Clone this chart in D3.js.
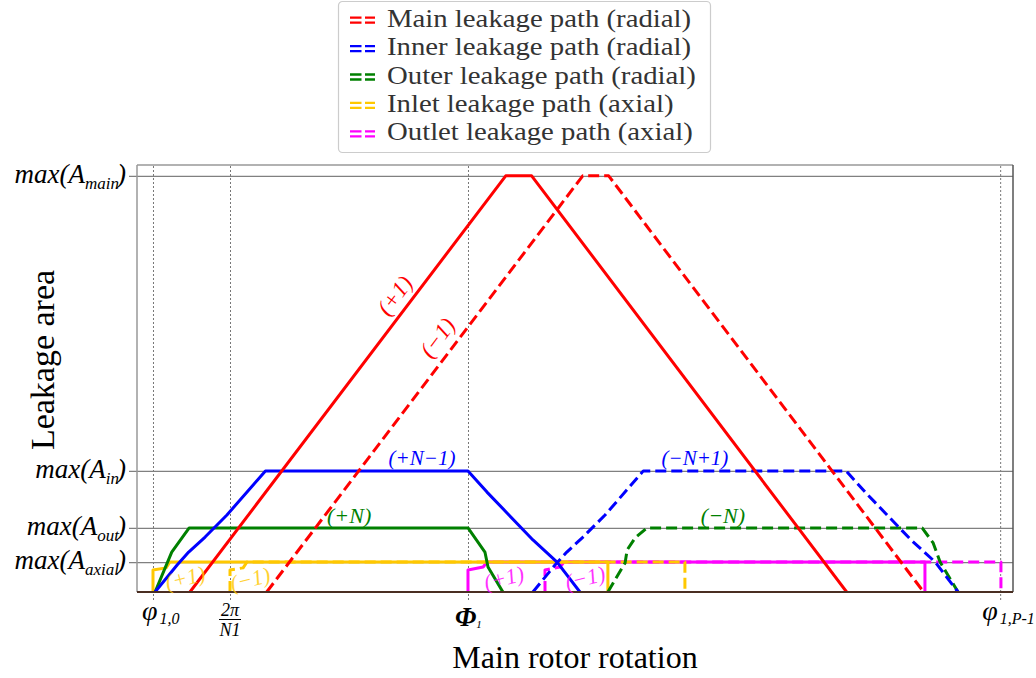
<!DOCTYPE html>
<html>
<head>
<meta charset="utf-8">
<script src="https://cdn.jsdelivr.net/npm/d3@7"></script>
<style>
  html, body { margin: 0; padding: 0; background: #fff; }
  svg { display: block; }
  text { font-family: "Liberation Serif", "Times New Roman", serif; }
</style>
</head>
<body>
<svg id="chart" width="1036" height="678"></svg>
<script>
// Rotation angle (degrees) and normalised leakage area (1 = max main area)
const xTickValues = [0, 30, 122.7, 330];
const yTickValues = [1, 0.291, 0.154, 0.072];

// y tick label parts: [prefix, subscript]
const yTickLabels = [["max(A", "main"], ["max(A", "in"], ["max(A", "out"], ["max(A", "axial"]];

// Main leakage path (radial)
const mainPlusX = [14.4, 137.4, 147.5, 270.2];
const mainPlusY = [0, 1, 1, 0];
const mainMinusX = [44.3, 167.4, 177.5, 300.2];
const mainMinusY = [0, 1, 1, 0];

// Inner leakage path (radial)
const innerPlusX = [0.8, 9.4, 13.9, 20.3, 28.8, 43.8, 122.7, 130.1, 137.9, 148.0, 157.4, 166.3];
const innerPlusY = [0, 0.065, 0.096, 0.132, 0.185, 0.291, 0.291, 0.240, 0.190, 0.125, 0.072, 0];
const innerMinusX = [148.0, 156.6, 161.2, 167.5, 176.1, 191.0, 270.0, 277.4, 285.2, 295.3, 304.7, 313.6];
const innerMinusY = [0, 0.065, 0.096, 0.132, 0.185, 0.291, 0.291, 0.240, 0.190, 0.125, 0.072, 0];

// Outer leakage path (radial)
const outerPlusX = [0.8, 7.3, 14.1, 122.7, 129.3, 130.5, 136.3];
const outerPlusY = [0, 0.096, 0.154, 0.154, 0.096, 0.060, 0];
const outerMinusX = [177.2, 181.1, 183.9, 184.7, 187.8, 192.4, 299.6, 303.9, 306.6, 313.6];
const outerMinusY = [0, 0.041, 0.070, 0.101, 0.130, 0.154, 0.154, 0.118, 0.072, 0];

// Inlet leakage path (axial)
const inletPlusX = [0, 0, 5.1, 6.6, 177.2, 177.2];
const inletPlusY = [0, 0.053, 0.058, 0.072, 0.072, 0];
const inletMinusX = [30, 30, 35.1, 36.6, 207.2, 207.2];
const inletMinusY = [0, 0.053, 0.058, 0.072, 0.072, 0];

// Outlet leakage path (axial)
const outletPlusX = [122.7, 122.7, 128.6, 130.1, 300.7, 300.7];
const outletPlusY = [0, 0.053, 0.060, 0.072, 0.072, 0];
const outletMinusX = [152.7, 152.7, 158.6, 160.1, 330.3, 330.3];
const outletMinusY = [0, 0.053, 0.060, 0.072, 0.072, 0];

const legendLabels = [
  "Main leakage path (radial)",
  "Inner leakage path (radial)",
  "Outer leakage path (radial)",
  "Inlet leakage path (axial)",
  "Outlet leakage path (axial)"
];

// Mode labels placed along the curves: text, x, y
const annText = ["(+1)", "(\u22121)", "(+N\u22121)", "(\u2212N+1)", "(+N)", "(\u2212N)", "(+1)", "(\u22121)", "(+1)", "(\u22121)"];
const annX = [94.3, 110.9, 104.8, 211.1, 76.4, 222.0, 12.5, 37.8, 136.7, 168.3];
const annY = [0.712, 0.611, 0.322, 0.322, 0.185, 0.185, 0.034, 0.031, 0.034, 0.034];

// ---------------------------------------------------------------
const colors = { main: "#ff0000", inner: "#0000ff", outer: "#008000", inlet: "#ffc800", outlet: "#ff00ff" };
const annColor = [colors.main, colors.main, colors.inner, colors.inner, colors.outer, colors.outer,
                  colors.inlet, colors.inlet, colors.outlet, colors.outlet];
const annRotate = [-53, -53, 0, 0, 0, 0, -14, -14, -14, -14];
const annSize = [23, 23, 21, 21, 22, 22, 22, 22, 22, 22];

const plot = { left: 137, right: 1013, top: 165, bottom: 592 };
const svg = d3.select("#chart");

const x = d3.scaleLinear().domain([-6.23, 335.0]).range([plot.left, plot.right]);
const y = d3.scaleLinear().domain([0, 1.026]).range([plot.bottom, plot.top]);

svg.append("defs").append("clipPath").attr("id", "plotClip")
  .append("rect")
  .attr("x", plot.left).attr("y", plot.top)
  .attr("width", plot.right - plot.left).attr("height", plot.bottom - plot.top);

// vertical dotted reference lines (extend below the axis as tick marks)
const xAxis = d3.axisBottom(x).tickValues(xTickValues).tickSize(-(plot.bottom - plot.top) - 8).tickFormat("");
const gx = svg.append("g").attr("transform", `translate(0,${plot.bottom + 8})`).call(xAxis);
gx.select(".domain").remove();
gx.selectAll(".tick line").attr("stroke", "#777").attr("stroke-width", 1).attr("stroke-dasharray", "2,2");

// horizontal level lines with short ticks on the left
const yAxis = d3.axisLeft(y).tickValues(yTickValues).tickSize(-(plot.right - plot.left) - 8).tickFormat("");
const gy = svg.append("g").attr("transform", `translate(${plot.left - 8},0)`).call(yAxis);
gy.select(".domain").remove();
gy.selectAll(".tick line").attr("stroke", "#808080").attr("stroke-width", 1.2);

// y tick labels with subscripts
yTickValues.forEach((v, i) => {
  const t = svg.append("text")
    .attr("x", 126).attr("y", y(v) + 7)
    .attr("text-anchor", "end")
    .attr("font-size", 27).attr("font-style", "italic").attr("fill", "#000");
  t.append("tspan").text(yTickLabels[i][0]);
  t.append("tspan").attr("dy", 6).attr("font-size", 17).text(yTickLabels[i][1]);
  t.append("tspan").attr("dy", -6).attr("dx", -2).text(")");
});

// curves
const line = d3.line().x(d => x(d[0])).y(d => y(d[1]));
const zip = (xs, ys) => xs.map((v, i) => [v, ys[i]]);
const curves = [
  [outletPlusX, outletPlusY, colors.outlet, false],
  [outletMinusX, outletMinusY, colors.outlet, true],
  [inletPlusX, inletPlusY, colors.inlet, false],
  [inletMinusX, inletMinusY, colors.inlet, true],
  [outerPlusX, outerPlusY, colors.outer, false],
  [outerMinusX, outerMinusY, colors.outer, true],
  [innerPlusX, innerPlusY, colors.inner, false],
  [innerMinusX, innerMinusY, colors.inner, true],
  [mainPlusX, mainPlusY, colors.main, false],
  [mainMinusX, mainMinusY, colors.main, true]
];
const gc = svg.append("g").attr("clip-path", "url(#plotClip)");
curves.forEach(([xs, ys, c, dashed]) => {
  gc.append("path")
    .attr("d", line(zip(xs, ys)))
    .attr("fill", "none")
    .attr("stroke", c)
    .attr("stroke-width", 3)
    .attr("stroke-linejoin", "round")
    .attr("stroke-dasharray", dashed ? "11,5" : null);
});

// frame
svg.append("line").attr("x1", plot.left).attr("x2", plot.right).attr("y1", plot.top).attr("y2", plot.top)
  .attr("stroke", "#999").attr("stroke-width", 1.5);
svg.append("line").attr("x1", plot.left).attr("x2", plot.left).attr("y1", plot.top).attr("y2", plot.bottom)
  .attr("stroke", "#999").attr("stroke-width", 1.5);
svg.append("line").attr("x1", plot.right).attr("x2", plot.right).attr("y1", plot.top).attr("y2", plot.bottom)
  .attr("stroke", "#555").attr("stroke-width", 1.5);
svg.append("line").attr("x1", plot.left).attr("x2", plot.right).attr("y1", plot.bottom).attr("y2", plot.bottom)
  .attr("stroke", "#4a2e22").attr("stroke-width", 2);

// mode annotations
annText.forEach((s, i) => {
  const px = x(annX[i]), py = y(annY[i]);
  svg.append("text")
    .attr("x", px).attr("y", py)
    .attr("text-anchor", "middle").attr("dominant-baseline", "central")
    .attr("transform", `rotate(${annRotate[i]},${px},${py})`)
    .attr("font-size", annSize[i]).attr("font-style", "italic")
    .attr("fill", annColor[i])
    .attr("opacity", i >= 6 ? 0.8 : 1)
    .text(s);
});

// x tick labels
const xl = svg.append("g").attr("font-style", "italic").attr("fill", "#000");
// φ1,0
{
  const t = xl.append("text").attr("x", x(xTickValues[0]) - 11).attr("y", 620).attr("font-size", 28);
  t.append("tspan").text("\u03C6");
  t.append("tspan").attr("dx", 2).attr("dy", 4).attr("font-size", 16).text("1,0");
}
// 2π / N1
{
  const cx = x(xTickValues[1]);
  xl.append("text").attr("x", cx).attr("y", 616).attr("text-anchor", "middle").attr("font-size", 18).text("2\u03C0");
  xl.append("line").attr("x1", cx - 11).attr("x2", cx + 11).attr("y1", 619.5).attr("y2", 619.5)
    .attr("stroke", "#000").attr("stroke-width", 1);
  xl.append("text").attr("x", cx).attr("y", 636).attr("text-anchor", "middle").attr("font-size", 18).text("N1");
}
// Φ1
{
  const t = xl.append("text").attr("x", x(xTickValues[2]) - 13).attr("y", 626).attr("font-size", 27).attr("font-weight", "bold");
  t.append("tspan").text("\u03A6");
  t.append("tspan").attr("dy", 2).attr("font-size", 11).attr("font-weight", "normal").text("1");
}
// φ1,P-1
{
  const t = xl.append("text").attr("x", x(xTickValues[3]) - 18).attr("y", 620).attr("font-size", 28);
  t.append("tspan").text("\u03C6");
  t.append("tspan").attr("dx", 2).attr("dy", 4).attr("font-size", 16).text("1,P-1");
}

// axis titles
svg.append("text").attr("x", 575).attr("y", 668).attr("text-anchor", "middle")
  .attr("font-size", 32).attr("fill", "#000").text("Main rotor rotation");
svg.append("text").attr("transform", "translate(54,360) rotate(-90)").attr("text-anchor", "middle")
  .attr("font-size", 34).attr("fill", "#000").text("Leakage area");

// legend
const lg = svg.append("g");
lg.append("rect").attr("x", 338.5).attr("y", 1.5).attr("width", 372).attr("height", 151).attr("rx", 4)
  .attr("fill", "#fff").attr("fill-opacity", 0.85).attr("stroke", "#ccc").attr("stroke-width", 1.2);
const legColors = [colors.main, colors.inner, colors.outer, colors.inlet, colors.outlet];
legendLabels.forEach((s, i) => {
  const base = 26.7 + i * 28.4;
  [-9, -4].forEach(off => {
    lg.append("line").attr("x1", 350).attr("x2", 375).attr("y1", base + off).attr("y2", base + off)
      .attr("stroke", legColors[i]).attr("stroke-width", 2.3).attr("stroke-dasharray", "11.5,3.5");
  });
  const t = lg.append("text").attr("x", 387).attr("y", base).attr("font-size", 25).attr("fill", "#333").text(s);
  // the legend face is set slightly wide: stretch each entry horizontally
  const w = t.node().getComputedTextLength();
  t.attr("textLength", w * 1.15).attr("lengthAdjust", "spacingAndGlyphs");
});
</script>
</body>
</html>
